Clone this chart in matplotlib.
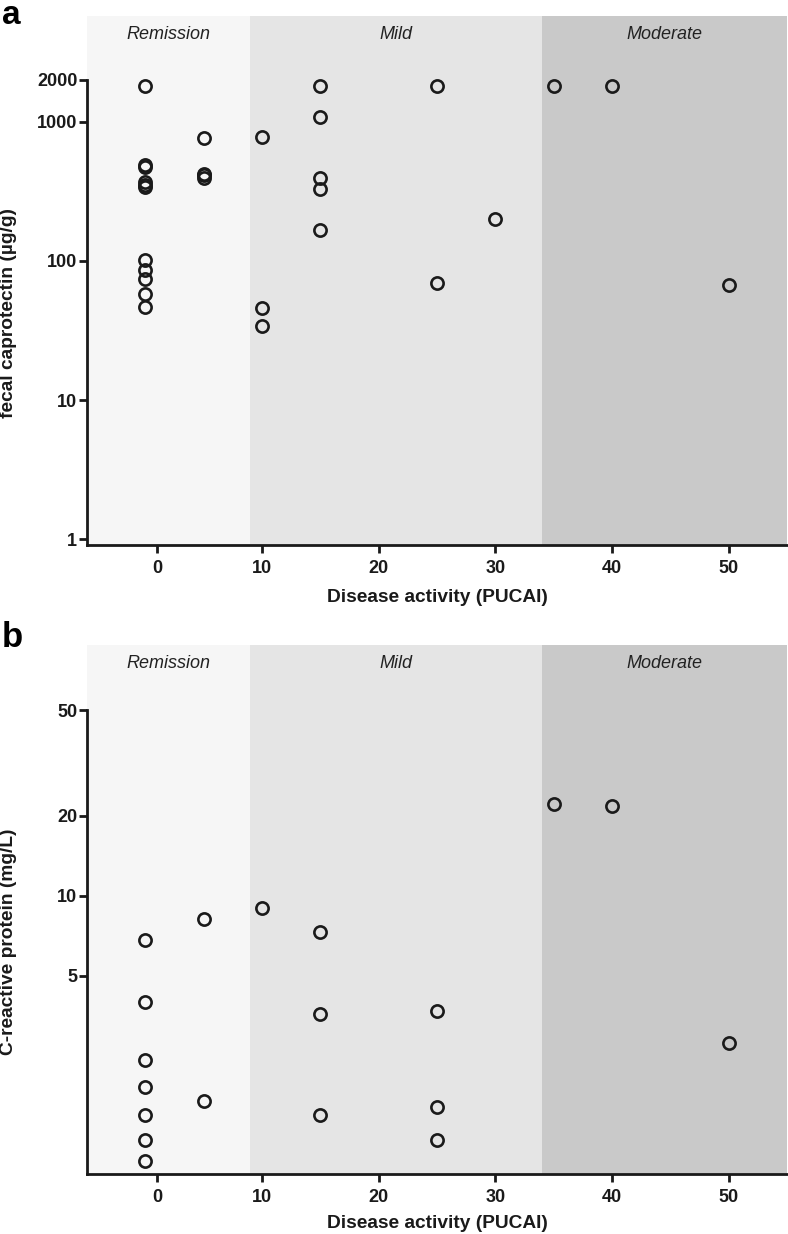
import matplotlib
matplotlib.use("Agg")
import matplotlib.pyplot as plt

plt.rcParams['font.family'] = ['Liberation Sans', 'DejaVu Sans']

# ---- data ----
# Panel a: fecal calprotectin vs PUCAI
fc_x = [0]*11 + [5]*4 + [10]*3 + [15]*5 + [25]*2 + [30] + [35] + [40] + [50]
fc_y = [1800, 485, 470, 370, 350, 338, 101, 86.5, 74.6, 57.9, 46.9,
        767, 423, 410, 396,
        771, 46.1, 34.0,
        1800, 1074, 396, 330, 166,
        1800, 69.8,
        200,
        1800,
        1800,
        67.5]

# Panel b: C-reactive protein vs PUCAI
crp_x = [0]*7 + [5]*2 + [10] + [15]*3 + [25]*3 + [35] + [40] + [50]
crp_y = [6.8, 4.0, 2.4, 1.9, 1.5, 1.2, 1.0,
         8.2, 1.69,
         9.0,
         7.3, 3.6, 1.5,
         3.7, 1.6, 1.2,
         22.2,
         21.8,
         2.78]

regions = ["Remission", "Mild", "Moderate"]
region_edges = [-5, 9, 34, 55]
region_colors = ["#f6f6f6", "#e5e5e5", "#c9c9c9"]

xtick_pos = [1, 10, 20, 30, 40, 50]
xtick_labels = ["0", "10", "20", "30", "40", "50"]

fc_ticks = [1, 10, 100, 1000, 2000]
fc_tick_labels = ["1", "10", "100", "1000", "2000"]
crp_ticks = [5, 10, 20, 50]
crp_tick_labels = ["5", "10", "20", "50"]

W, H = 788, 1234
fig = plt.figure(figsize=(W/100, H/100), dpi=100)

def px_axes(left, top, right, bottom):
    return fig.add_axes([left/W, 1-bottom/H, (right-left)/W, (bottom-top)/H])

def style(ax, ylim, yticks, ylabels, spine_top):
    ax.set_xlim(region_edges[0], region_edges[-1])
    ax.set_yscale('log')
    ax.set_ylim(*ylim)
    for i, name in enumerate(regions):
        ax.axvspan(region_edges[i], region_edges[i+1], color=region_colors[i], lw=0, zorder=0)
        ax.text((region_edges[i]+region_edges[i+1])/2, 0.965, name, transform=ax.get_xaxis_transform(),
                ha='center', va='center', style='italic', fontsize=13, color='#222222')
    for s in ['top', 'right']:
        ax.spines[s].set_visible(False)
    for s in ['left', 'bottom']:
        ax.spines[s].set_linewidth(2.0)
        ax.spines[s].set_color('#1a1a1a')
    ax.spines['left'].set_bounds(ylim[0], spine_top)
    ax.set_yticks(yticks)
    ax.set_yticklabels(ylabels)
    ax.yaxis.set_minor_locator(matplotlib.ticker.NullLocator())
    ax.set_xticks(xtick_pos)
    ax.set_xticklabels(xtick_labels)
    ax.tick_params(axis='both', length=5.5, width=2.0, color='#1a1a1a', pad=1.5,
                   labelsize=13, labelcolor='#1a1a1a')
    for lab in ax.get_xticklabels() + ax.get_yticklabels():
        lab.set_fontweight('bold')
    ax.tick_params(axis='x', pad=5)
    ax.set_facecolor('white')

marker_kw = dict(ls='none', marker='o', ms=8.8, mfc='none', mec='#1a1a1a', mew=1.9, zorder=3, clip_on=False)

ax1 = px_axes(87, 16, 787, 545)
style(ax1, (0.91, 5730), fc_ticks, fc_tick_labels, 2000)
ax1.plot(fc_x, fc_y, **marker_kw)

ax2 = px_axes(87, 645, 787, 1174)
style(ax2, (0.897, 87.9), crp_ticks, crp_tick_labels, 50)
ax2.plot(crp_x, crp_y, **marker_kw)

# axis labels
lab_kw = dict(fontsize=13.8, fontweight='bold', color='#1a1a1a')
fig.text(437/W, 1-598/H, "Disease activity (PUCAI)", ha='center', va='center', **lab_kw)
fig.text(437/W, 1-1223/H, "Disease activity (PUCAI)", ha='center', va='center', **lab_kw)
fig.text(9/W, 1-313/H, "fecal caprotectin (\u00b5g/g)", ha='center', va='center', rotation=90, **lab_kw)
fig.text(9/W, 1-942/H, "C-reactive protein (mg/L)", ha='center', va='center', rotation=90, **lab_kw)

# panel letters
fig.text(2/W, 1-24/H, "a", ha='left', va='baseline', fontsize=24, fontweight='bold', color='black')
fig.text(2/W, 1-647/H, "b", ha='left', va='baseline', fontsize=25, fontweight='bold', color='black')

fig.savefig("out.png", dpi=100)
